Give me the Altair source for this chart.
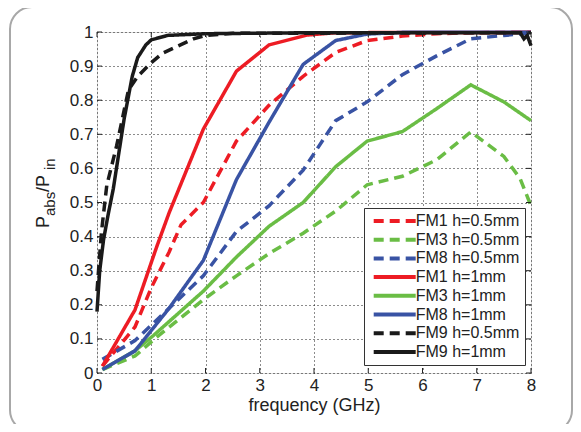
import altair as alt
import pandas as pd

# ---------------- data ----------------
series_names = ["FM1 h=0.5mm", "FM3 h=0.5mm", "FM8 h=0.5mm",
                "FM1 h=1mm", "FM3 h=1mm", "FM8 h=1mm",
                "FM9 h=0.5mm", "FM9 h=1mm"]
series_colors = ["#ed1c24", "#6abd45", "#3953a4",
                 "#ed1c24", "#6abd45", "#3953a4",
                 "#1a1a1a", "#1a1a1a"]
series_dash = [[10, 6], [10, 6], [10, 6], [1, 0], [1, 0], [1, 0], [10, 6], [1, 0]]

fm1_05_f = [0.1, 0.7, 1.0, 1.33, 1.55, 1.96, 2.57, 3.17, 3.8, 4.4, 4.98, 5.63, 6.26, 6.89, 8.0]
fm1_05_v = [0.02, 0.135, 0.25, 0.355, 0.435, 0.50, 0.68, 0.785, 0.87, 0.94, 0.975, 0.988, 0.995, 0.998, 0.999]

fm3_05_f = [0.1, 0.7, 1.1, 1.96, 2.57, 3.17, 3.8, 4.4, 4.98, 5.63, 6.26, 6.89, 7.5, 7.8, 8.0]
fm3_05_v = [0.01, 0.05, 0.105, 0.215, 0.285, 0.35, 0.41, 0.475, 0.552, 0.577, 0.625, 0.707, 0.635, 0.57, 0.49]

fm8_05_f = [0.1, 0.7, 1.33, 1.96, 2.57, 3.17, 3.8, 4.4, 4.98, 5.63, 6.26, 6.89, 7.5, 8.0]
fm8_05_v = [0.04, 0.095, 0.19, 0.285, 0.415, 0.49, 0.595, 0.74, 0.795, 0.875, 0.93, 0.98, 0.99, 0.997]

fm1_1_f = [0.1, 0.7, 1.1, 1.33, 1.96, 2.57, 3.17, 3.87, 4.4, 8.0]
fm1_1_v = [0.02, 0.185, 0.37, 0.47, 0.715, 0.885, 0.962, 0.991, 0.998, 0.999]

fm3_1_f = [0.1, 0.7, 1.04, 1.96, 2.57, 3.17, 3.8, 4.4, 4.98, 5.63, 6.26, 6.89, 7.5, 8.0]
fm3_1_v = [0.01, 0.065, 0.11, 0.24, 0.34, 0.43, 0.50, 0.605, 0.68, 0.708, 0.775, 0.845, 0.795, 0.74]

fm8_1_f = [0.1, 0.7, 1.33, 1.96, 2.57, 3.17, 3.8, 4.4, 4.98, 5.63, 8.0]
fm8_1_v = [0.01, 0.065, 0.19, 0.33, 0.567, 0.735, 0.905, 0.975, 0.994, 0.999, 0.999]

fm9_05_f = [0.0, 0.08, 0.18, 0.36, 0.58, 0.75, 1.0, 1.2, 1.4, 1.78, 2.0, 2.5, 8.0]
fm9_05_v = [0.24, 0.41, 0.55, 0.665, 0.83, 0.87, 0.91, 0.937, 0.952, 0.98, 0.99, 0.996, 0.998]

fm9_1_f = [0.0, 0.05, 0.12, 0.2, 0.3, 0.5, 0.65, 0.75, 0.9, 1.0, 1.3, 2.0, 4.0, 7.8, 7.87, 7.93, 8.0]
fm9_1_v = [0.18, 0.3, 0.39, 0.46, 0.54, 0.745, 0.87, 0.925, 0.962, 0.977, 0.99, 0.995, 0.998, 0.998, 0.98, 0.99, 0.96]

x_ticks = [0, 1, 2, 3, 4, 5, 6, 7, 8]
y_ticks = [0, 0.1, 0.2, 0.3, 0.4, 0.5, 0.6, 0.7, 0.8, 0.9, 1]

freqs = [fm1_05_f, fm3_05_f, fm8_05_f, fm1_1_f, fm3_1_f, fm8_1_f, fm9_05_f, fm9_1_f]
vals = [fm1_05_v, fm3_05_v, fm8_05_v, fm1_1_v, fm3_1_v, fm8_1_v, fm9_05_v, fm9_1_v]

rows = []
for name, fs, vs in zip(series_names, freqs, vals):
    for i, (f, v) in enumerate(zip(fs, vs)):
        rows.append({"series": name, "f": f, "v": v, "i": i})
df = pd.DataFrame(rows)

# ---------------- styling ----------------
W, H = 434, 341
FONT = "Liberation Sans"
TXT = "#222222"

xs = alt.Scale(domain=[0, 8], nice=False, zero=False)
ys = alt.Scale(domain=[0, 1], nice=False, zero=False)

x_axis = alt.Axis(values=x_ticks, title="frequency (GHz)", grid=True, ticks=False,
                  domain=False, labelFontSize=17, titleFontSize=18, labelPadding=4,
                  titlePadding=3, gridDash=[1, 3], gridColor="#000000", gridOpacity=0.9,
                  labelColor=TXT, titleColor=TXT, titleFontWeight="normal",
                  labelFlush=False, labelOverlap=False, labelFont=FONT, titleFont=FONT)
y_axis = alt.Axis(values=y_ticks, format="~g", title=None, grid=True, ticks=False,
                  domain=False, labelFontSize=17, labelPadding=4,
                  gridDash=[1, 3], gridColor="#000000", gridOpacity=0.9,
                  labelColor=TXT, labelFlush=False, labelOverlap=False, labelFont=FONT)

# custom long stroke symbol: 42 px long while the row height stays small
legend = alt.Legend(title=None, orient="none", legendX=267, legendY=176,
                    symbolType="M-3.5,0H3.5", symbolSize=144, symbolStrokeWidth=4,
                    labelFontSize=16, labelFont="Arial", labelColor=TXT, labelLimit=220,
                    padding=5, rowPadding=2.7, symbolOffset=17.7, labelOffset=13,
                    fillColor="white", strokeColor="#333333")

color_scale = alt.Scale(domain=series_names, range=series_colors)
dash_scale = alt.Scale(domain=series_names, range=series_dash)

layers = []

# outer rounded frame
frame = alt.Chart(pd.DataFrame({"k": [0]})).mark_rect(
    fill="white", fillOpacity=0, stroke="#a8a8a8", strokeWidth=2, cornerRadius=22
).encode(x=alt.value(-87), x2=alt.value(475), y=alt.value(-25), y2=alt.value(400))
layers.append(frame)

for name in series_names:
    sub = df[df["series"] == name]
    layers.append(
        alt.Chart(sub).mark_line(strokeWidth=3.5, strokeCap="butt", strokeJoin="miter").encode(
            x=alt.X("f:Q", scale=xs, axis=x_axis),
            y=alt.Y("v:Q", scale=ys, axis=y_axis),
            color=alt.Color("series:N", scale=color_scale, legend=legend),
            strokeDash=alt.StrokeDash("series:N", scale=dash_scale, legend=legend),
            order="i:Q",
        )
    )

# inward tick marks on all four sides
xt = pd.DataFrame({"f": x_ticks})
yt = pd.DataFrame({"v": y_ticks})
TL = 5
for y0, y1 in [(H, H - TL), (0, TL)]:
    layers.append(alt.Chart(xt).mark_rule(color="#222222", strokeWidth=1).encode(
        x=alt.X("f:Q", scale=xs, axis=x_axis), y=alt.value(y0), y2=alt.value(y1)))
for x0, x1 in [(0, TL), (W, W - TL)]:
    layers.append(alt.Chart(yt).mark_rule(color="#222222", strokeWidth=1).encode(
        y=alt.Y("v:Q", scale=ys, axis=y_axis), x=alt.value(x0), x2=alt.value(x1)))

# y-axis title with subscripts: P_abs / P_in
one = pd.DataFrame({"k": [0]})
def ytxt(t, xpos, ypos, size):
    return alt.Chart(one).mark_text(text=t, angle=270, align="left", baseline="alphabetic",
                                    fontSize=size, font=FONT, color=TXT).encode(
        x=alt.value(xpos), y=alt.value(ypos))

layers.append(ytxt("P", -48.5, 196, 18))
layers.append(ytxt("abs", -42, 184, 15))
layers.append(ytxt("/P", -48.5, 160, 18))
layers.append(ytxt("in", -42, 138, 15))

chart = alt.layer(*layers).properties(
    width=W, height=H,
    autosize=alt.AutoSizeParams(type="none"),
    padding={"left": 89, "top": 24, "right": 42, "bottom": 51},
    background="white",
).configure_view(stroke="#222222", strokeWidth=1.2).configure(font=FONT)

chart.save("out.html", embed_options={"renderer": "svg", "actions": False})
